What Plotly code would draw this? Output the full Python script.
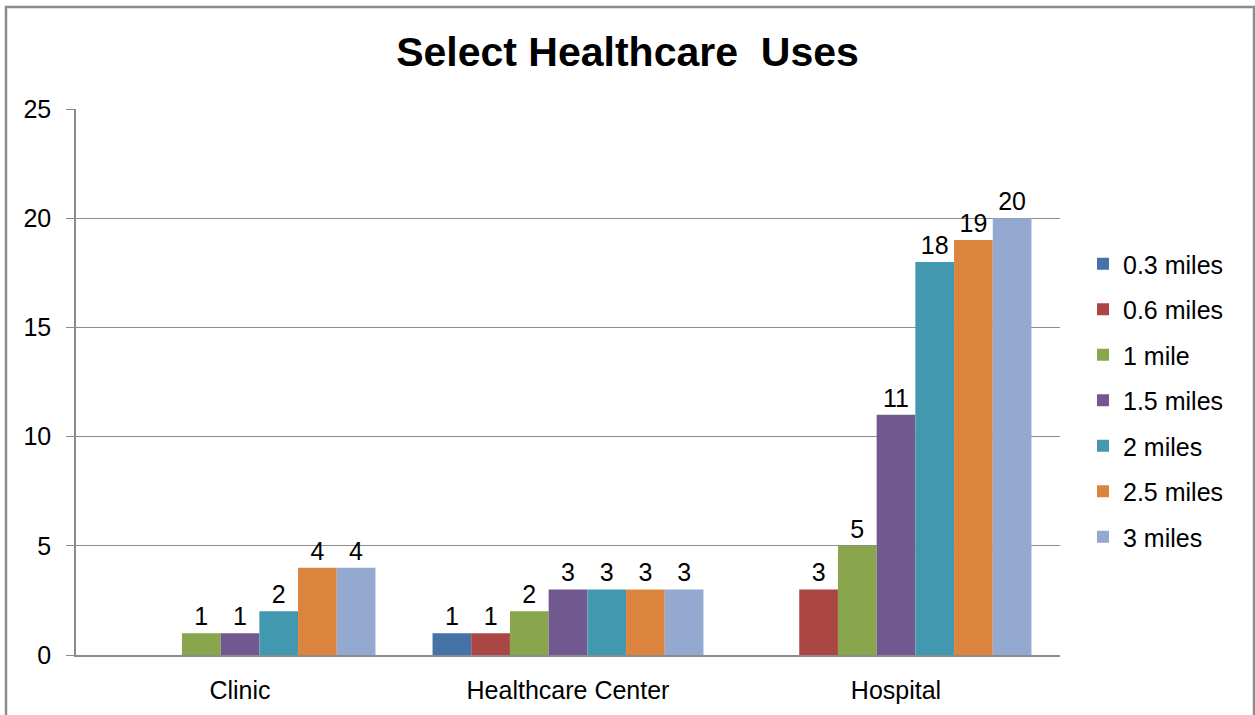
import plotly.graph_objects as go

categories = ["Clinic", "Healthcare Center", "Hospital"]
series_names = ["0.3 miles", "0.6 miles", "1 mile", "1.5 miles", "2 miles", "2.5 miles", "3 miles"]
# zero counts are left empty so no bar or label is drawn
values_03 = [None, 1, None]
values_06 = [None, 1, 3]
values_1 = [1, 2, 5]
values_15 = [1, 3, 11]
values_2 = [2, 3, 18]
values_25 = [4, 3, 19]
values_3 = [4, 3, 20]
series_values = [values_03, values_06, values_1, values_15, values_2, values_25, values_3]
colors = ["#4572A7", "#AA4643", "#89A54E", "#71588F", "#4198AF", "#DB843D", "#93A9CF"]
y_ticks = [0, 5, 10, 15, 20, 25]

FONT = "Liberation Sans, Arial, sans-serif"
TXT = 25
W, H = 1255, 715
L, R, T, B = 76, 195, 109, 60
pw, ph = W - L - R, H - T - B

fig = go.Figure()
for i, (name, vals, col) in enumerate(zip(series_names, series_values, colors)):
    fig.add_trace(go.Bar(
        x=categories, y=vals, name=name, marker_color=col,
        marker_line_width=0,
        text=[("" if v is None else str(v)) for v in vals],
        textposition="outside", cliponaxis=False,
        textfont=dict(family=FONT, size=TXT, color="#000000"),
        legendgroup=f"g{i}",
    ))

fig.update_layout(
    width=W, height=H,
    margin=dict(l=L, r=R, t=T, b=B, autoexpand=False),
    paper_bgcolor="white", plot_bgcolor="white",
    barmode="group", bargap=0.174, bargroupgap=0,
    font=dict(family=FONT, size=TXT, color="#000000"),
    title=dict(text="<b>Select Healthcare  Uses</b>", x=0.5, xref="container",
               y=1 - 52 / H, yref="container", yanchor="middle", xanchor="center",
               font=dict(family=FONT, size=41, color="#000000")),
    legend=dict(x=(1083 - L) / pw, xanchor="left", y=(655 - 400.5) / ph, yanchor="middle",
                font=dict(family=FONT, size=TXT, color="#000000"),
                tracegroupgap=10, bgcolor="rgba(0,0,0,0)", itemwidth=30),
    showlegend=True,
)
fig.update_yaxes(range=[0, 25], tickvals=y_ticks, showgrid=True, gridcolor="#8C8C8C", gridwidth=1,
                 showline=True, linecolor="#8C8C8C", linewidth=1.5, ticks="outside", ticklen=8,
                 tickcolor="#8C8C8C", ticklabelstandoff=10, zeroline=False, automargin=False,
                 tickfont=dict(family=FONT, size=TXT))
fig.update_xaxes(showline=True, linecolor="#8C8C8C", linewidth=1.5, ticks="", showgrid=False,
                 ticklabelstandoff=12, automargin=False, tickfont=dict(family=FONT, size=TXT))

# chart frame
fig.add_shape(type="rect", xref="paper", yref="paper",
              x0=(6 - L) / pw, x1=(1254 - L) / pw, y0=(655 - 730) / ph, y1=(655 - 7) / ph,
              line=dict(color="#8C8C8C", width=2.5), fillcolor="rgba(0,0,0,0)", layer="below")

fig.write_html("out.html")
